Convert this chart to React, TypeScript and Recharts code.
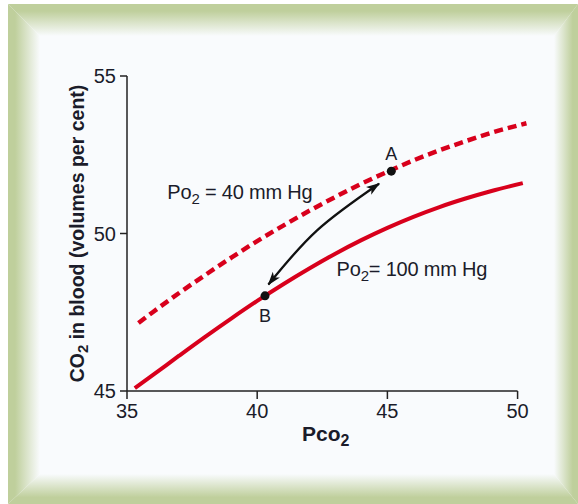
import React from "react";
import {
  LineChart,
  Line,
  XAxis,
  YAxis,
  ReferenceLine,
  ReferenceDot,
} from "recharts";

// Po2 = 40 mm Hg (dashed)
const venousCurve = [
  { x: 35.44, y: 47.16 },
  { x: 36, y: 47.51 },
  { x: 37, y: 48.11 },
  { x: 38, y: 48.68 },
  { x: 39, y: 49.23 },
  { x: 40, y: 49.76 },
  { x: 41, y: 50.25 },
  { x: 42, y: 50.72 },
  { x: 43, y: 51.16 },
  { x: 44, y: 51.58 },
  { x: 45, y: 51.96 },
  { x: 46, y: 52.32 },
  { x: 47, y: 52.64 },
  { x: 48, y: 52.93 },
  { x: 49, y: 53.2 },
  { x: 50.34, y: 53.5 },
];

// Po2 = 100 mm Hg (solid)
const arterialCurve = [
  { x: 35.3, y: 45.09 },
  { x: 36, y: 45.51 },
  { x: 37, y: 46.12 },
  { x: 38, y: 46.72 },
  { x: 39, y: 47.3 },
  { x: 40, y: 47.86 },
  { x: 41, y: 48.39 },
  { x: 42, y: 48.89 },
  { x: 43, y: 49.36 },
  { x: 44, y: 49.79 },
  { x: 45, y: 50.18 },
  { x: 46, y: 50.53 },
  { x: 47, y: 50.84 },
  { x: 48, y: 51.11 },
  { x: 49, y: 51.35 },
  { x: 50.2, y: 51.6 },
];

// double arrow between B and A
const arrowPath = [
  { x: 40.43, y: 48.38 },
  { x: 42.3, y: 50.1 },
  { x: 44.68, y: 51.58 },
];

const pointA = { x: 45.15, y: 51.98 };
const pointB = { x: 40.3, y: 48.02 };

const xTicks = [35, 40, 45, 50];
const yTicks = [45, 50, 55];

const RED = "#d8001c";
const INK = "#1b1c2a";
const GREEN = "#bfcf9c";
const PANEL = "#f9fbfd";
const FONT = "'Liberation Sans', Arial, sans-serif";

const curveLabel = (head: string, rest: string) => (props: any) => {
  const { x, y, width, height } = props.viewBox;
  return (
    <text
      x={x + width / 2}
      y={y + height / 2 + 6}
      fontFamily={FONT}
      fontSize={20}
      letterSpacing={-0.2}
      fill={INK}
    >
      {head}
      <tspan dy={5} fontSize={15}>2</tspan>
      <tspan dy={-5}>{rest}</tspan>
    </text>
  );
};

const pointLabel = (txt: string, dy: number) => (props: any) => {
  const { x, y, width, height } = props.viewBox;
  return (
    <text
      x={x + width / 2}
      y={y + height / 2 + dy}
      textAnchor="middle"
      fontFamily={FONT}
      fontSize={18}
      fill={INK}
    >
      {txt}
    </text>
  );
};

const xTitle = (props: any) => {
  const { x, y } = props.viewBox;
  return (
    <text x={x + 175} y={y + 50} fontFamily={FONT} fontWeight="bold" fontSize={21} fill={INK}>
      Pco
      <tspan dy={5} fontSize={16}>2</tspan>
    </text>
  );
};

const yTitle = (props: any) => {
  const { y, height } = props.viewBox;
  const cx = 77;
  const cy = y + height / 2;
  return (
    <text
      x={cx}
      y={cy}
      transform={`rotate(-90 ${cx} ${cy})`}
      textAnchor="middle"
      dominantBaseline="central"
      fontFamily={FONT}
      fontWeight="bold"
      fontSize={19.5}
      fill={INK}
    >
      CO
      <tspan dy={5} fontSize={15}>2</tspan>
      <tspan dy={-5}> in blood (volumes per cent)</tspan>
    </text>
  );
};

// mitred bevel frame: four trapezoids fading from green to the panel colour
const Frame = () => {
  const W = 570;
  const H = 500;
  const t = 32;
  const l = 32;
  const r = 24;
  const b = 30;
  const band = (dir: string) =>
    `linear-gradient(${dir}, ${GREEN} 0%, ${GREEN} 22%, ${PANEL} 100%)`;
  return (
    <div style={{ position: "absolute", left: 8, top: 4, width: W, height: H, background: PANEL }}>
      <div
        style={{
          position: "absolute", left: 0, top: 0, width: W, height: t,
          background: band("to bottom"),
          clipPath: `polygon(0 0, ${W}px 0, ${W - r}px ${t}px, ${l}px ${t}px)`,
        }}
      />
      <div
        style={{
          position: "absolute", left: 0, top: H - b, width: W, height: b,
          background: band("to top"),
          clipPath: `polygon(${l}px 0, ${W - r}px 0, ${W}px ${b}px, 0 ${b}px)`,
        }}
      />
      <div
        style={{
          position: "absolute", left: 0, top: 0, width: l, height: H,
          background: band("to right"),
          clipPath: `polygon(0 0, ${l}px ${t}px, ${l}px ${H - b}px, 0 ${H}px)`,
        }}
      />
      <div
        style={{
          position: "absolute", left: W - r, top: 0, width: r, height: H,
          background: band("to left"),
          clipPath: `polygon(${r}px 0, ${r}px ${H}px, 0 ${H - b}px, 0 ${t}px)`,
        }}
      />
    </div>
  );
};

export default function App() {
  return (
    <div style={{ position: "absolute", left: 0, top: 0, width: 578, height: 504 }}>
      <Frame />
      <svg width={0} height={0} style={{ position: "absolute" }}>
        <defs>
          <marker
            id="arrowHead"
            viewBox="0 0 12 8"
            refX={11}
            refY={4}
            markerWidth={6}
            markerHeight={4.2}
            orient="auto-start-reverse"
          >
            <path d="M0,0 L12,4 L0,8 L3,4 z" fill="#111" />
          </marker>
        </defs>
      </svg>
      <div style={{ position: "absolute", left: 0, top: 0 }}>
        <LineChart
          width={578}
          height={504}
          margin={{ top: 76, right: 50, bottom: 73, left: 67 }}
        >
          <XAxis
            type="number"
            dataKey="x"
            domain={[35, 50.4]}
            ticks={xTicks}
            axisLine={false}
            tickLine={{ stroke: "#222", strokeWidth: 1.5 }}
            tickSize={8}
            tickMargin={5}
            height={40}
            tick={{ fontFamily: FONT, fontSize: 20, fill: INK }}
            label={{ content: xTitle }}
          />
          <YAxis
            type="number"
            dataKey="y"
            domain={[45, 55]}
            ticks={yTicks}
            axisLine={{ stroke: "#222", strokeWidth: 1.5 }}
            tickLine={{ stroke: "#222", strokeWidth: 1.5 }}
            tickSize={7}
            tickMargin={4}
            width={60}
            tick={{ fontFamily: FONT, fontSize: 20, fill: INK }}
            label={{ content: yTitle }}
          />
          <ReferenceLine
            segment={[
              { x: 35, y: 45 },
              { x: 50, y: 45 },
            ]}
            stroke="#222"
            strokeWidth={1.5}
          />
          <Line
            data={venousCurve}
            dataKey="y"
            type="monotone"
            stroke={RED}
            strokeWidth={4.5}
            strokeDasharray="9 5"
            dot={false}
            activeDot={false}
            isAnimationActive={false}
          />
          <Line
            data={arterialCurve}
            dataKey="y"
            type="monotone"
            stroke={RED}
            strokeWidth={4}
            dot={false}
            activeDot={false}
            isAnimationActive={false}
          />
          <Line
            data={arrowPath}
            dataKey="y"
            type="natural"
            stroke="#111"
            strokeWidth={2.3}
            markerStart="url(#arrowHead)"
            markerEnd="url(#arrowHead)"
            dot={false}
            activeDot={false}
            isAnimationActive={false}
          />
          <ReferenceDot x={pointA.x} y={pointA.y} r={4.5} fill="#111" stroke="none"
            label={{ content: pointLabel("A", -11) }} />
          <ReferenceDot x={pointB.x} y={pointB.y} r={4.5} fill="#111" stroke="none"
            label={{ content: pointLabel("B", 26) }} />
          <ReferenceDot x={36.55} y={51.29} r={1} fill="none" stroke="none"
            label={{ content: curveLabel("Po", " = 40 mm Hg") }} />
          <ReferenceDot x={43.05} y={48.84} r={1} fill="none" stroke="none"
            label={{ content: curveLabel("Po", "= 100 mm Hg") }} />
        </LineChart>
      </div>
    </div>
  );
}
